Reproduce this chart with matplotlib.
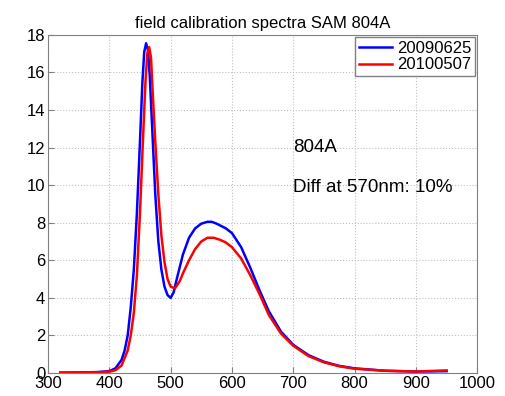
import matplotlib
matplotlib.use("Agg")
import matplotlib.pyplot as plt

plt.rcParams['font.family'] = ['Liberation Sans', 'DejaVu Sans']

# wavelength (nm) and spectra
wl_blue = [320, 350, 380, 400, 410, 420, 425, 430, 435, 440, 445, 450, 454, 457, 460, 463,
           466, 470, 475, 480, 485, 490, 495, 500, 505, 510, 520, 530, 540, 550, 560, 567,
           575, 590, 600, 615, 630, 645, 660, 680, 700, 725, 750, 775, 800, 850, 900, 950]
blue = [0.02, 0.03, 0.05, 0.1, 0.25, 0.7, 1.2, 2.0, 3.5, 5.5, 8.5, 12.3, 15.5, 17.1, 17.55, 17.2,
        15.8, 13.0, 9.5, 7.0, 5.5, 4.6, 4.15, 4.0, 4.3, 5.0, 6.3, 7.2, 7.7, 7.95, 8.05, 8.05,
        7.95, 7.7, 7.45, 6.7, 5.6, 4.4, 3.3, 2.2, 1.5, 0.95, 0.6, 0.38, 0.25, 0.12, 0.08, 0.1]

wl_red = [320, 350, 380, 400, 410, 420, 430, 435, 440, 445, 450, 455, 459, 462, 465, 468,
          471, 475, 480, 485, 490, 495, 500, 507, 515, 520, 530, 540, 550, 560, 570,
          580, 590, 600, 615, 630, 645, 660, 680, 700, 725, 750, 775, 800, 850, 900, 950]
red = [0.02, 0.03, 0.04, 0.07, 0.15, 0.4, 1.2, 2.0, 3.2, 5.2, 8.5, 12.5, 15.5, 17.0, 17.35, 16.8,
       14.8, 12.3, 9.5, 7.3, 5.9, 5.0, 4.6, 4.5, 4.9, 5.3, 6.0, 6.6, 7.0, 7.2, 7.2,
       7.1, 6.95, 6.7, 6.1, 5.2, 4.2, 3.1, 2.1, 1.45, 0.9, 0.57, 0.36, 0.23, 0.12, 0.08, 0.14]

labels = ['20090625', '20100507']

fig = plt.figure(figsize=(5.05, 3.96), dpi=100)
ax = fig.add_axes([0.095, 0.058, 0.85, 0.854])

ax.plot(wl_blue, blue, color='#0000ff', lw=1.8, label=labels[0])
ax.plot(wl_red, red, color='#ff0000', lw=1.8, label=labels[1])

ax.set_xlim(300, 1000)
ax.set_ylim(0, 18)
ax.set_xticks(range(300, 1001, 100))
ax.set_yticks(range(0, 19, 2))
ax.tick_params(labelsize=12, direction='in', length=4, color='#808080', pad=2)
ax.grid(True, linestyle=':', color='#c0c0c0', lw=0.8)
for s in ax.spines.values():
    s.set_color('#808080')

ax.set_title('field calibration spectra SAM 804A', fontsize=12, pad=5)
ax.text(700, 11.98, '804A', fontsize=13.5, va='center')
ax.text(700, 9.9, 'Diff at 570nm: 10%', fontsize=13.5, va='center')

leg = ax.legend(loc='upper right', fontsize=12, handlelength=2.0, handletextpad=0.3,
                borderpad=0.2, labelspacing=0.1, fancybox=False, framealpha=1,
                borderaxespad=0.15)
leg.get_frame().set_edgecolor('#808080')

fig.savefig('out.png', dpi=100)
